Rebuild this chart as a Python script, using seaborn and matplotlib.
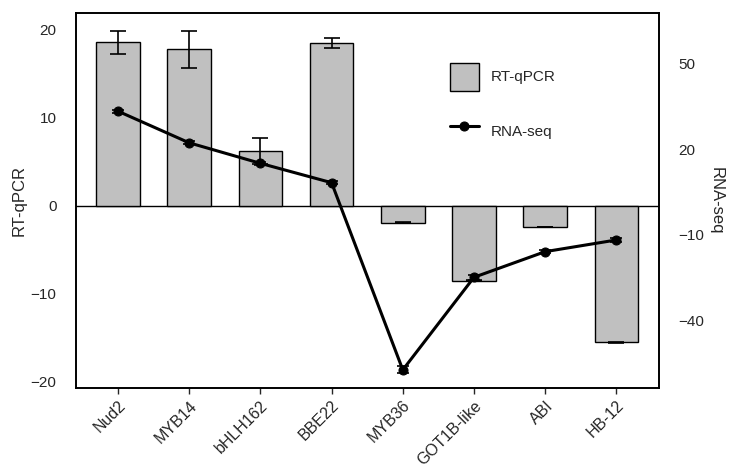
import matplotlib
matplotlib.use("Agg")
import matplotlib.pyplot as plt
import seaborn as sns
import numpy as np
import pandas as pd

genes = ["Nud2", "MYB14", "bHLH162", "BBE22", "MYB36", "GOT1B-like", "ABI", "HB-12"]
qpcr = [18.6, 17.8, 6.25, 18.5, -1.9, -8.5, -2.4, -15.5]
qpcr_err = [1.3, 2.1, 1.45, 0.55, 0.05, 0.08, 0.05, 0.05]
rnaseq = [33.3, 22.2, 15.0, 8.2, -57.5, -25.0, -16.0, -11.9]
rnaseq_err = [0.5, 0.5, 0.5, 0.5, 1.2, 0.8, 0.6, 0.8]

sns.set_style("white")
plt.rcParams["font.family"] = ["Liberation Sans", "DejaVu Sans"]

df = pd.DataFrame({"gene": genes, "qpcr": qpcr, "rnaseq": rnaseq})
x = np.arange(len(genes))

fig = plt.figure(figsize=(7.34, 4.71), dpi=100)
ax = fig.add_axes([0.1035, 0.176, 0.7945, 0.796])

# bars (RT-qPCR) on the left axis
sns.barplot(data=df, x="gene", y="qpcr", color="#c0c0c0", edgecolor="black",
            linewidth=1.0, width=0.61, saturation=1, errorbar=None, ax=ax,
            label="RT-qPCR", zorder=2)
ax.errorbar(x, qpcr, yerr=qpcr_err, fmt="none", ecolor="black", elinewidth=1.2,
            capsize=6, capthick=1.2, zorder=3)
ax.axhline(0, color="black", lw=1.0, zorder=1)

ax.set_xlim(-0.59, 7.6)
ax.set_ylim(-20.7, 21.9)
ax.set_yticks([-20, -10, 0, 10, 20])
ax.set_xlabel("")
ax.set_ylabel("RT-qPCR", fontsize=12, labelpad=3)
ax.tick_params(axis="y", length=0, labelsize=11, pad=14)
ax.tick_params(axis="x", length=4, width=1, direction="out", labelsize=11.5,
               bottom=True, pad=3)
plt.setp(ax.get_xticklabels(), rotation=45, ha="right", rotation_mode="anchor")

# line (RNA-seq) on the right axis
ax2 = ax.twinx()
sns.lineplot(x=x, y=rnaseq, color="black", lw=2.2, marker="o", markersize=6.5,
             markeredgecolor="black", ax=ax2, label="RNA-seq", zorder=4)
ax2.errorbar(x, rnaseq, yerr=rnaseq_err, fmt="none", ecolor="black",
             elinewidth=1.2, capsize=4, capthick=1.2, zorder=4)
ax2.set_ylim(-63.9, 67.7)
ax2.set_yticks([-40, -10, 20, 50])
ax2.set_ylabel("RNA-seq", fontsize=12, rotation=270, labelpad=14)
ax2.tick_params(axis="y", length=0, labelsize=11, pad=14)

for a in (ax, ax2):
    for s in a.spines.values():
        s.set_color("black")
        s.set_linewidth(1.2)

h1, l1 = ax.get_legend_handles_labels()
h2, l2 = ax2.get_legend_handles_labels()
if ax2.get_legend():
    ax2.get_legend().remove()
if ax.get_legend():
    ax.get_legend().remove()
ax2.legend(h1 + h2, l1 + l2, loc="upper left", bbox_to_anchor=(0.617, 0.904),
           frameon=False, fontsize=11, labelspacing=1.75, handlelength=1.9,
           handleheight=2.4, handletextpad=0.8)

fig.savefig("out.png", dpi=100)
